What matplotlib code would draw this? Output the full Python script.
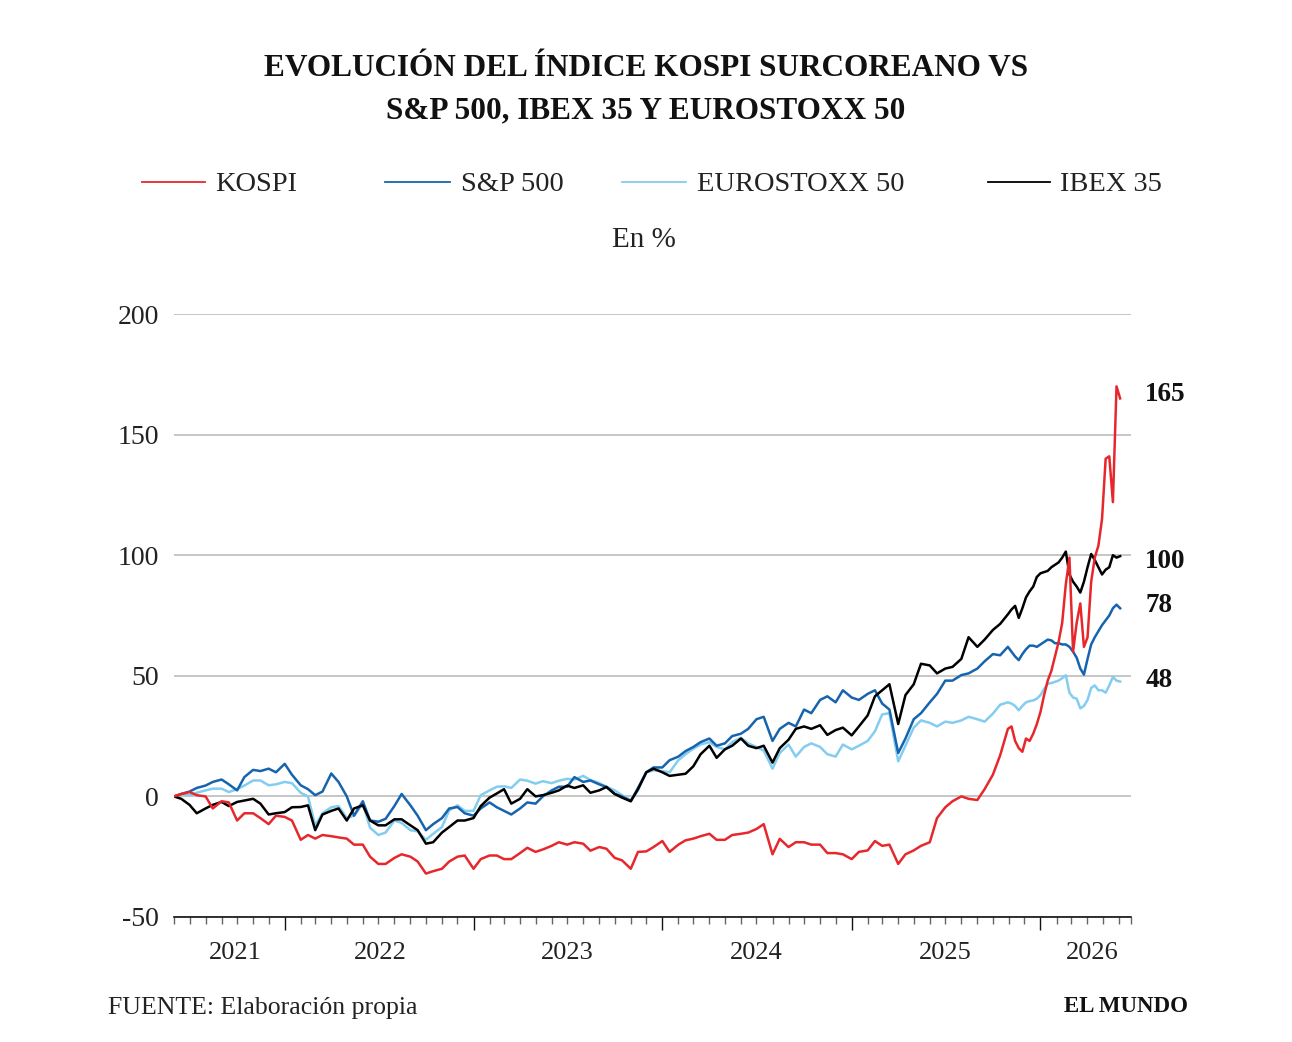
import matplotlib
matplotlib.use("Agg")
import matplotlib.pyplot as plt
import matplotlib.dates as mdates
from matplotlib.lines import Line2D
import pandas as pd

plt.rcParams['font.family'] = ['Liberation Serif', 'DejaVu Serif']
plt.rcParams['axes.unicode_minus'] = False

W, H = 1292, 1042

# fechas: quincenal hasta oct-2025, semanal en el tramo final
fechas = pd.date_range('2021-06-01', periods=106, freq='SMS').append(
    pd.date_range('2025-10-30', periods=32, freq='7D'))

kospi = [
    0, 1, 1.8, 0.5, 0, -5, -2, -2.5, -10, -7,
    -7, -9, -11.5, -8, -8.5, -10, -18, -16, -17.5, -16,
    -16.5, -17, -17.5, -20, -20, -25, -28, -28, -25.5, -24,
    -25, -27, -32, -31, -30, -27, -25, -24.5, -30, -26,
    -24.5, -24.5, -26, -26, -23.5, -21.3, -23, -22, -20.5, -19,
    -20, -19, -19.6, -22.5, -21, -21.7, -25.5, -26.5, -30, -23,
    -22.8, -21, -18.5, -23, -20, -18.2, -17.5, -16.5, -15.5, -18,
    -18, -16, -15.5, -15, -13.5, -11.5, -24, -17.6, -21, -19,
    -19, -20, -20, -23.5, -23.5, -24, -26, -23, -22.4, -18.5,
    -20.5, -20, -28, -24, -22.4, -20.5, -19, -9, -4.5, -2,
    0, -1, -1.5, 3, 9, 17,
    # semanal
    28, 29, 23, 20, 18.5, 24, 23, 26, 30, 35,
    42, 48, 52, 58, 64, 72, 88, 99, 60, 72,
    80, 62, 66, 89, 99, 104, 115, 140, 141, 122,
    170, 165,
]

sp500 = [
    0, 1, 2, 3.5, 4.5, 6, 7, 5, 2.5, 8,
    11, 10.5, 11.5, 10, 13.5, 9, 4.6, 3, 0.5, 2,
    9.5, 6, 0, -8, -2, -10, -10.5, -9.3, -4, 1,
    -3.7, -8, -14, -11.5, -9, -5, -4.4, -7, -8, -5,
    -2.5, -4.5, -6, -7.5, -5, -2.5, -3, 0, 2.5, 4,
    4, 8, 6, 6.6, 5, 3.9, 1, 0, -2, 3.5,
    10, 12, 12, 15, 16.5, 18.8, 20.5, 22.5, 24, 21,
    22, 25, 26, 28, 32, 33, 23, 28, 30.5, 29,
    36, 34.5, 40, 41.5, 39, 44, 41, 40, 42.5, 44,
    38.5, 36, 18, 24, 32, 34.5, 39, 42.5, 48, 48,
    50.3, 51, 53, 56, 59, 58.5,
    62, 60, 58, 56.5, 59, 61, 62.5, 62.5, 62, 63,
    64, 65, 64.7, 63.5, 63.5, 63, 63, 62, 60, 57.5,
    53, 50.5, 57, 63, 66, 68.5, 71, 73, 75, 78,
    79.5, 78,
]

eurostoxx = [
    0, 1, 0.5, 1.5, 2.5, 3.2, 3.2, 1.8, 3, 4.5,
    6.6, 6.6, 4.6, 5, 6, 5.5, 1.5, 0, -12, -7,
    -4.5, -4, -9, -8, -3, -13, -16, -15, -10, -11,
    -14, -14.5, -18, -15.5, -12.7, -5.8, -3.7, -6, -6, 0.5,
    2.5, 4, 4.2, 3.5, 7, 6.5, 5.3, 6.3, 5.5, 6.5,
    7.3, 7, 8.5, 6.8, 5.5, 4, 2.5, 0.5, -1.5, 2.5,
    10, 10.8, 10.5, 10, 15, 17.5, 19.8, 21.5, 22.5, 20.5,
    19.5, 22.5, 24.3, 22, 20.5, 19, 11.5, 18, 21.5, 16.5,
    20.5, 22, 20.5, 17.5, 16.5, 21.5, 19.5, 21, 23, 27,
    34, 34.5, 14.5, 21, 28.5, 31.5, 30.5, 29, 31, 30.5,
    31.5, 33, 32, 31, 34.3, 38,
    39, 38.5, 37.5, 35.7, 37.5, 39, 39.5, 39.8, 40.5, 42,
    44.5, 46.7, 47, 47.5, 48, 49, 50.2, 43, 41, 40.5,
    36.5, 37.5, 40, 45, 46, 44, 44, 43, 46, 49.5,
    48, 47.6,
]

ibex = [
    0, -1, -3.5, -7, -5, -3.5, -2.3, -4, -2.3, -1.7,
    -1, -3, -7.5, -7, -6.5, -4.5, -4.4, -3.7, -14, -7.5,
    -6, -5, -10, -5, -3.7, -10, -12, -12, -9.5, -9.5,
    -12, -14, -19.6, -19, -15, -12.7, -10, -10, -9, -4,
    -0.5, 1.2, 3, -3, -1, 3, 0, 0.5, 1.5, 2.5,
    4.5, 3.5, 4.6, 1.5, 2.5, 3.9, 1, -0.5, -2, 3,
    10, 11.5, 10, 8.5, 9, 9.4, 12.5, 17.5, 21, 16,
    19.5, 21, 24, 21, 20, 21, 14, 20, 23.5, 28,
    29, 28, 29.5, 25.5, 27.5, 28.5, 25.3, 29, 33.6, 41.5,
    44, 46.5, 30, 42, 46.5, 55, 54.3, 51, 53, 53.7,
    57, 66, 62, 65, 69, 71.5,
    75.5, 77.5, 79, 74, 78, 82.5, 85, 87, 91, 92.5,
    93, 93.5, 95, 96, 97, 99, 101.5, 92, 89, 87,
    84.5, 89, 95, 100.5, 98, 95, 92, 94, 95, 100,
    99, 99.6,
]

nombres = ['KOSPI', 'S&P 500', 'EUROSTOXX 50', 'IBEX 35']
valores = [kospi, sp500, eurostoxx, ibex]
colores = ['#e6282d', '#1764ae', '#82cdf0', '#000000']
anios = ['2021', '2022', '2023', '2024', '2025', '2026']
pos_anios = ['2021-09-27', '2022-07-05', '2023-07-02', '2024-07-01', '2025-07-01', '2026-04-12']

fig = plt.figure(figsize=(W / 100, H / 100), dpi=100)
ax = fig.add_axes([174 / W, 125 / H, 957 / W, 603 / H])

# orden de dibujo: kospi encima
for i in [2, 1, 3, 0]:
  ax.plot(fechas, valores[i], color=colores[i], lw=1.8, solid_joinstyle='round', zorder=3)

# etiquetas finales (desplazadas para no solaparse)
for i, y_off in zip(range(4), [1.8, 1.3, 0.5, -2.1]):
  ax.annotate('%.0f' % valores[i][-1], xy=(fechas[-1], valores[i][-1] + y_off),
              xytext=(18, 0), textcoords='offset points', ha='left', va='center',
              fontsize=19.5, fontweight='bold', color='#111111', annotation_clip=False)

ax.set_ylim(-50, 200)
ax.set_yticks([-50, 0, 50, 100, 150, 200])
ax.set_yticklabels(['-50', '0', '50', '100', '150', '200'])
ax.yaxis.grid(True, color='#bcbcbc', lw=1.2)
ax.set_axisbelow(True)
ax.tick_params(axis='y', length=0, pad=11, labelsize=20, labelcolor='#222222')

x0 = mdates.date2num(pd.Timestamp('2021-06-01'))
x1 = mdates.date2num(pd.Timestamp('2026-06-25'))
ax.set_xlim(x0, x1)
ax.set_xticks([mdates.date2num(pd.Timestamp('%d-01-01' % a)) for a in range(2022, 2027)])
ax.set_xticklabels([])
menores = [mdates.date2num(d) for d in pd.date_range('2021-06-01', '2026-06-01', freq='MS')] + [x1]
ax.set_xticks(menores, minor=True)
ax.tick_params(axis='x', which='major', length=9.5, width=1, color='#111111')
ax.tick_params(axis='x', which='minor', length=5, width=1, color='#666666')

for s in ['top', 'right', 'left']:
  ax.spines[s].set_visible(False)
ax.spines['bottom'].set_color('#111111')
ax.spines['bottom'].set_linewidth(1.2)

for a, p in zip(anios, pos_anios):
  ax.text(mdates.date2num(pd.Timestamp(p)), -0.06, a, transform=ax.get_xaxis_transform(),
          ha='center', va='center', fontsize=19, color='#222222')

# titulo
fig.text(0.5, 1 - 68 / H, 'EVOLUCIÓN DEL ÍNDICE KOSPI SURCOREANO VS', ha='center', va='center',
         fontsize=22.5, fontweight='bold', color='#111111')
fig.text(0.5, 1 - 111 / H, 'S&P 500, IBEX 35 Y EUROSTOXX 50', ha='center', va='center',
         fontsize=22.5, fontweight='bold', color='#111111')

# leyenda manual
leyenda_x = [(142, 205, 215), (385, 450, 461), (622, 686, 697), (988, 1050, 1060)]
yl = 1 - 182 / H
yt = 1 - 185 / H
for (a, b, t), nom, col in zip(leyenda_x, nombres, colores):
  fig.add_artist(Line2D([a / W, b / W], [yl, yl], color=col, lw=1.3))
  fig.text(t / W, yt, nom, ha='left', va='center', fontsize=20.5, color='#222222')

fig.text(644 / W, 1 - 240 / H, 'En %', ha='center', va='center', fontsize=21, color='#222222')

fig.text(108 / W, 1 - 1008 / H, 'FUENTE: Elaboración propia', ha='left', va='center',
         fontsize=18.5, color='#222222')
fig.text(1188 / W, 1 - 1007 / H, 'EL MUNDO', ha='right', va='center',
         fontsize=16.5, fontweight='bold', color='#111111')

fig.savefig('out.png', dpi=100)
